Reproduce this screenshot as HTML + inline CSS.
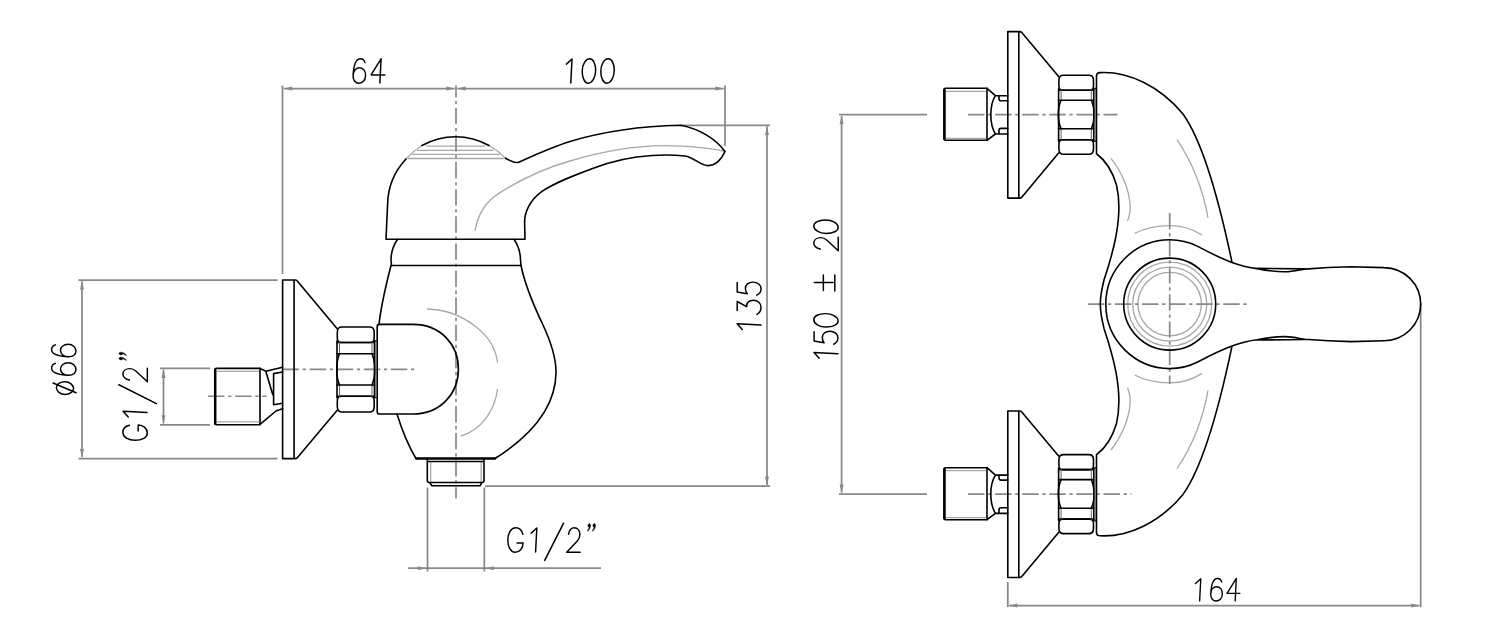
<!DOCTYPE html>
<html><head><meta charset="utf-8"><style>
html,body{margin:0;padding:0;background:#fff;}
svg{display:block;}
.o path,.o circle,.o line{fill:none;stroke:#000;stroke-width:1.6;stroke-linejoin:round;stroke-linecap:round;}
.o .th{stroke-width:2.5;}
.o .gi{stroke:#666;stroke-width:1;}
.o .tk{stroke-width:2.3;}
.g path,.g circle,.g line{fill:none;stroke:#a8a8a8;stroke-width:1.3;}
.d{stroke:#888;stroke-width:1.75;}
.ar{fill:#888;stroke:none;}
.c{stroke:#888;stroke-width:1.7;stroke-dasharray:16.4 3.7 3.3 3.7;}
.t path,path.t{fill:none;stroke:#000;stroke-width:1.55;stroke-linecap:round;stroke-linejoin:round;}
.t path.q{fill:#000;stroke:#000;stroke-width:0.4;}
</style></head><body>
<svg width="1500" height="640" viewBox="0 0 1500 640">
<rect width="1500" height="640" fill="#fff"/>
<g class="g"><path d="M406,159 A68.4,68.4 0 0 1 422,145.5 M489,145.5 A68.4,68.4 0 0 1 505.5,158.2"/><line class="h" x1="426.2" y1="146.2" x2="485.1" y2="146.2"/><line class="h" x1="417.1" y1="150.4" x2="493.8" y2="150.4"/><line class="h" x1="411.9" y1="154.4" x2="499.9" y2="154.4"/><line class="h" x1="408" y1="158.5" x2="503.7" y2="158.5"/><path d="M475,231 C478,212 488,200 500,192.6 C520,180 545,168 570,161 C600,152 635,146 664,145.7 C690,146 710,148 725,151.5"/><path d="M427,309 C460,310 494,332 497.5,362.5 M497.5,389 C495,410 482,430 460.6,436"/><line class="h" x1="430.6" y1="462" x2="430.6" y2="482"/><line class="h" x1="481.2" y1="462" x2="481.2" y2="482"/><line class="h" x1="216.5" y1="371.4" x2="259" y2="371.4"/><line class="h" x1="216.5" y1="421.8" x2="259" y2="421.8"/><line class="h" x1="946" y1="91.3" x2="986" y2="91.3"/><line class="h" x1="946" y1="138.3" x2="986" y2="138.3"/><line class="h" x1="946" y1="470.7" x2="986" y2="470.7"/><line class="h" x1="946" y1="517.7" x2="986" y2="517.7"/><circle cx="1169.7" cy="304.1" r="42"/><circle cx="1169.7" cy="304.1" r="37"/><circle cx="1169.7" cy="304.1" r="31.7"/><path d="M1111,158.4 C1122,172 1129,190 1130,204 C1130.5,210 1129.5,216 1127.5,221 M1177,139.7 C1192,162 1203,190 1208,217.8 M1134.7,233.4 C1145,228 1158,225.6 1169.7,225.6 C1181,225.6 1193,229 1202,235"/><path transform="matrix(1,0,0,-1,0,608.4)" d="M1111,158.4 C1122,172 1129,190 1130,204 C1130.5,210 1129.5,216 1127.5,221 M1177,139.7 C1192,162 1203,190 1208,217.8 M1134.7,233.4 C1145,228 1158,225.6 1169.7,225.6 C1181,225.6 1193,229 1202,235"/></g>
<g><line class="c" style="stroke-dashoffset:4.4" x1="456" y1="85.2" x2="456" y2="498.4"/><line class="c" x1="282.5" y1="369.4" x2="414.7" y2="369.4"/><line class="c" x1="208" y1="396.25" x2="266.5" y2="396.25"/><line class="c" x1="968" y1="114.7" x2="1117.5" y2="114.7"/><line class="c" x1="968" y1="494.1" x2="1131.5" y2="494.1"/><line class="c" x1="1169.7" y1="213" x2="1169.7" y2="384"/><line class="c" x1="1087.8" y1="304.1" x2="1250.6" y2="304.1"/></g>
<g><line class="d" x1="282.5" y1="85.5" x2="282.5" y2="274"/><line class="d" x1="283.8" y1="88.5" x2="454.7" y2="88.5"/><line class="d" x1="457.3" y1="88.5" x2="723.7" y2="88.5"/><line class="d" x1="725" y1="85.5" x2="725" y2="146"/><path class="ar" d="M283.80,88.50 L292.10,86.50 L292.10,90.50Z"/><path class="ar" d="M454.70,88.50 L446.40,90.50 L446.40,86.50Z"/><path class="ar" d="M457.30,88.50 L465.60,86.50 L465.60,90.50Z"/><path class="ar" d="M723.70,88.50 L715.40,90.50 L715.40,86.50Z"/><line class="d" x1="680" y1="125.3" x2="770" y2="125.3"/><line class="d" x1="767" y1="126.6" x2="767" y2="484.9"/><line class="d" x1="485" y1="486.2" x2="770" y2="486.2"/><path class="ar" d="M767.00,126.60 L769.00,134.90 L765.00,134.90Z"/><path class="ar" d="M767.00,484.90 L765.00,476.60 L769.00,476.60Z"/><line class="d" x1="78.5" y1="280" x2="277.5" y2="280"/><line class="d" x1="78.5" y1="458.6" x2="277.5" y2="458.6"/><line class="d" x1="82" y1="281.3" x2="82" y2="457.3"/><path class="ar" d="M82.00,281.30 L84.00,289.60 L80.00,289.60Z"/><path class="ar" d="M82.00,457.30 L80.00,449.00 L84.00,449.00Z"/><line class="d" x1="160" y1="368.4" x2="210" y2="368.4"/><line class="d" x1="160" y1="424.8" x2="210" y2="424.8"/><line class="d" x1="163.5" y1="369.7" x2="163.5" y2="423.5"/><path class="ar" d="M163.50,369.70 L165.50,378.00 L161.50,378.00Z"/><path class="ar" d="M163.50,423.50 L161.50,415.20 L165.50,415.20Z"/><line class="d" x1="427.5" y1="487.5" x2="427.5" y2="571.5"/><line class="d" x1="484.3" y1="487.5" x2="484.3" y2="571.5"/><line class="d" x1="408" y1="568.2" x2="601" y2="568.2"/><path class="ar" d="M426.20,568.20 L417.90,570.20 L417.90,566.20Z"/><path class="ar" d="M485.60,568.20 L493.90,566.20 L493.90,570.20Z"/><line class="d" x1="839" y1="114.7" x2="927" y2="114.7"/><line class="d" x1="839" y1="494.1" x2="927" y2="494.1"/><line class="d" x1="841.6" y1="116" x2="841.6" y2="492.8"/><path class="ar" d="M841.60,116.00 L843.60,124.30 L839.60,124.30Z"/><path class="ar" d="M841.60,492.80 L839.60,484.50 L843.60,484.50Z"/><line class="d" x1="1007.8" y1="582" x2="1007.8" y2="607"/><line class="d" x1="1420.7" y1="304.3" x2="1420.7" y2="607"/><line class="d" x1="1009.1" y1="605.5" x2="1419.4" y2="605.5"/><path class="ar" d="M1009.10,605.50 L1017.40,603.50 L1017.40,607.50Z"/><path class="ar" d="M1419.40,605.50 L1411.10,607.50 L1411.10,603.50Z"/></g>
<g class="o"><path d="M386,239.3 L387.6,204.4 A68.4,68.4 0 0 1 406,159 M422,145.5 A68.4,68.4 0 0 1 489,145.5 M505.5,158.2 C509,160 513,163 518,162.5 C535,155 552,147 570,141.5 C605,131 645,126 680.5,125.3 C700,129 716,139 725,151.5 C721,160 716,166 707.4,165.6 C700,165 693,157 685,156 C670,154.5 660,155 652,155.5 C630,157 612,161 594,168 C575,175 556,182 542,191.4 C530,200 524.6,212 524.6,222 L525,239.3 L386,239.3"/><path d="M397.5,239.3 C393,246 391,254 391,260 L391.5,265.5 L521,265.5 L520.5,260 C520.5,254 518.5,246 514,239.3"/><path d="M391,265.5 C386,285 381,305 379,324.5"/><path d="M397,414 C402,430 409,447 416,458.5 M495,458.5 C540,430 556,400 556,372 C556,355 550,340 543,325 C532,302 525,285 521,265.5"/><path class="tk" d="M416,458.5 L495,458.5"/><path d="M379.5,324.4 L413,324.4 C440,324.4 458.4,344 458.4,369 C458.4,394 440,414 413,414 L379.5,414 Q377.2,414 377.2,411.7 L377.2,326.7 Q377.2,324.4 379.5,324.4 Z"/><path d="M427.3,458.5 L427.3,480.5 Q427.3,482.5 429.5,482.5 L482,482.5 Q484,482.5 484,480.5 L484,458.5 M427.3,461.5 L484,461.5 M429.5,482.5 L432,485.8 L480,485.8 L482,482.5"/><path d="M341.9,327 L369.6,327 Q373.8,327 374.1,331.2 Q374.40000000000003,334.75 374.1,339.14 Q373.8,342.5 370.44,342.5 L341.06,342.5 Q337.7,342.5 337.4,339.14 Q337.09999999999997,334.75 337.4,331.2 Q337.7,327 341.9,327 Z"/><path d="M341.06,396.25 L370.44,396.25 Q373.8,396.25 374.1,399.61 Q374.40000000000003,404.125 374.1,407.8 Q373.8,412 369.6,412 L341.9,412 Q337.7,412 337.4,407.8 Q337.09999999999997,404.125 337.4,399.61 Q337.7,396.25 341.06,396.25 Z"/><path d="M337,341.0 L337,397.75 M374.5,341.0 L374.5,397.75"/><path d="M337,342.5 L374.5,342.5 M337,353.75 L374.5,353.75 M337,385 L374.5,385 M337,396.25 L374.5,396.25"/><path class="gi" d="M339.5,342.5 L339.5,353.75 M372.0,342.5 L372.0,353.75 M339.5,385 L339.5,396.25 M372.0,385 L372.0,396.25"/><path d="M339.5,353.75 C335.8,362.5 335.8,376.25 339.5,385 M372.0,353.75 C375.7,362.5 375.7,376.25 372.0,385"/><path d="M374.5,341 L377.2,341 M374.5,397.5 L377.2,397.5"/><path class="gi" d="M375.85,341 L375.85,397.5"/><path d="M282.6,280 L294.1,280 L294.1,458.6 L282.6,458.6 Z M294.1,280 L295.5,280 Q296.7,280.2 297.5,281.2 L337,328.5 M294.1,458.6 L295.5,458.6 Q296.7,458.4 297.5,457.4 L337,410.5"/><path d="M260,368.4 L216.5,368.4 Q214.8,368.4 214.8,370 L214.8,423.2 Q214.8,424.8 216.5,424.8 L260,424.8 Z"/><path class="th" d="M215.2,370 L215.2,423.2"/><path d="M260,368.4 L265.8,371.25 L282.6,367.3 M265.8,371.25 L272.8,394.7 M282.6,372 L273.6,373.6 L273.6,404.8 L282.6,403.3 M260,424.4 L276,411 L282.6,408.75"/><g transform="translate(0,0)"><path d="M1007.8,31.6 L1018.8,31.6 L1018.8,198.1 L1007.8,198.1 Z M1018.8,31.6 L1020,31.6 Q1021.2,31.8 1022,32.8 L1058.6,76.5 M1018.8,198.1 L1020,198.1 Q1021.2,197.9 1022,196.9 L1058.6,153"/><path d="M1063.5,75.2 L1088.8999999999999,75.2 Q1093.1,75.2 1093.3999999999999,79.4 Q1093.6999999999998,82.7 1093.3999999999999,86.84 Q1093.1,90.2 1089.74,90.2 L1062.6599999999999,90.2 Q1059.3,90.2 1059.0,86.84 Q1058.7,82.7 1059.0,79.4 Q1059.3,75.2 1063.5,75.2 Z"/><path d="M1062.6599999999999,139.7 L1089.74,139.7 Q1093.1,139.7 1093.3999999999999,143.06 Q1093.6999999999998,146.95 1093.3999999999999,150.0 Q1093.1,154.2 1088.8999999999999,154.2 L1063.5,154.2 Q1059.3,154.2 1059.0,150.0 Q1058.7,146.95 1059.0,143.06 Q1059.3,139.7 1062.6599999999999,139.7 Z"/><path d="M1058.6,88.7 L1058.6,141.2 M1093.8,88.7 L1093.8,141.2"/><path d="M1058.6,90.2 L1093.8,90.2 M1058.6,100.2 L1093.8,100.2 M1058.6,128.8 L1093.8,128.8 M1058.6,139.7 L1093.8,139.7"/><path class="gi" d="M1061.1,90.2 L1061.1,100.2 M1091.3,90.2 L1091.3,100.2 M1061.1,128.8 L1061.1,139.7 M1091.3,128.8 L1091.3,139.7"/><path d="M1061.1,100.2 C1057.3999999999999,108.208 1057.3999999999999,120.792 1061.1,128.8 M1091.3,100.2 C1095.0,108.208 1095.0,120.792 1091.3,128.8"/><path d="M1093.8,88.6 L1096.3,88.6 M1093.8,141.2 L1096.3,141.2"/><path class="gi" d="M1095.05,88.6 L1095.05,141.2"/><path d="M987,88.3 L945.5,88.3 Q944,88.3 944,89.8 L944,138.8 Q944,140.3 945.5,140.3 L987,140.3 Z"/><path class="th" d="M944.5,89.8 L944.5,138.8"/><path d="M987,88.3 L995.4,95.7 L1007.8,95.7 M987,140.3 L995.4,134 L1007.8,134 M995.4,95.7 C991.5,102 990.8,109 990.8,114.7 C990.8,120.5 991.5,127.5 995.4,134 M1007.8,100.7 L1001,100.7 Q999,100.7 999,98.7 L999,95.7 M1007.8,128.4 L1001,128.4 Q999,128.4 999,130.4 L999,134"/></g><g transform="translate(0,379.4)"><path d="M1007.8,31.6 L1018.8,31.6 L1018.8,198.1 L1007.8,198.1 Z M1018.8,31.6 L1020,31.6 Q1021.2,31.8 1022,32.8 L1058.6,76.5 M1018.8,198.1 L1020,198.1 Q1021.2,197.9 1022,196.9 L1058.6,153"/><path d="M1063.5,75.2 L1088.8999999999999,75.2 Q1093.1,75.2 1093.3999999999999,79.4 Q1093.6999999999998,82.7 1093.3999999999999,86.84 Q1093.1,90.2 1089.74,90.2 L1062.6599999999999,90.2 Q1059.3,90.2 1059.0,86.84 Q1058.7,82.7 1059.0,79.4 Q1059.3,75.2 1063.5,75.2 Z"/><path d="M1062.6599999999999,139.7 L1089.74,139.7 Q1093.1,139.7 1093.3999999999999,143.06 Q1093.6999999999998,146.95 1093.3999999999999,150.0 Q1093.1,154.2 1088.8999999999999,154.2 L1063.5,154.2 Q1059.3,154.2 1059.0,150.0 Q1058.7,146.95 1059.0,143.06 Q1059.3,139.7 1062.6599999999999,139.7 Z"/><path d="M1058.6,88.7 L1058.6,141.2 M1093.8,88.7 L1093.8,141.2"/><path d="M1058.6,90.2 L1093.8,90.2 M1058.6,100.2 L1093.8,100.2 M1058.6,128.8 L1093.8,128.8 M1058.6,139.7 L1093.8,139.7"/><path class="gi" d="M1061.1,90.2 L1061.1,100.2 M1091.3,90.2 L1091.3,100.2 M1061.1,128.8 L1061.1,139.7 M1091.3,128.8 L1091.3,139.7"/><path d="M1061.1,100.2 C1057.3999999999999,108.208 1057.3999999999999,120.792 1061.1,128.8 M1091.3,100.2 C1095.0,108.208 1095.0,120.792 1091.3,128.8"/><path d="M1093.8,88.6 L1096.3,88.6 M1093.8,141.2 L1096.3,141.2"/><path class="gi" d="M1095.05,88.6 L1095.05,141.2"/><path d="M987,88.3 L945.5,88.3 Q944,88.3 944,89.8 L944,138.8 Q944,140.3 945.5,140.3 L987,140.3 Z"/><path class="th" d="M944.5,89.8 L944.5,138.8"/><path d="M987,88.3 L995.4,95.7 L1007.8,95.7 M987,140.3 L995.4,134 L1007.8,134 M995.4,95.7 C991.5,102 990.8,109 990.8,114.7 C990.8,120.5 991.5,127.5 995.4,134 M1007.8,100.7 L1001,100.7 Q999,100.7 999,98.7 L999,95.7 M1007.8,128.4 L1001,128.4 Q999,128.4 999,130.4 L999,134"/></g><path d="M1096.5,153.75 L1096.5,76 Q1096.5,72.8 1100,72.6 C1128,71 1160,86 1183,114 C1203,142 1220,205 1232,262.3 M1105.8,304.1 A64.3,64.3 0 0 1 1169.7,239.8 C1180,239.8 1189,242 1197.7,246.4 C1206,250.8 1222,258.8 1232,262.4 C1242,266 1250,267.8 1257,268.6 C1267,270.6 1276,271.9 1285,271.8 C1293,271.6 1299,270 1305,269.1 C1320,267.8 1335,267 1351,266.8 L1384,267.6 A36.7,36.7 0 0 1 1420.7,304.3 M1096.5,153.75 C1105,160 1112,170 1116.5,185 C1120,200 1119,220 1116,236 C1113,252 1108,268 1104,280 C1101.5,290 1100.3,298 1100.3,304.3 M1257,268.4 L1305,268.9"/><path transform="matrix(1,0,0,-1,0,608.4)" d="M1096.5,153.75 L1096.5,76 Q1096.5,72.8 1100,72.6 C1128,71 1160,86 1183,114 C1203,142 1220,205 1232,262.3 M1105.8,304.1 A64.3,64.3 0 0 1 1169.7,239.8 C1180,239.8 1189,242 1197.7,246.4 C1206,250.8 1222,258.8 1232,262.4 C1242,266 1250,267.8 1257,268.6 C1267,270.6 1276,271.9 1285,271.8 C1293,271.6 1299,270 1305,269.1 C1320,267.8 1335,267 1351,266.8 L1384,267.6 A36.7,36.7 0 0 1 1420.7,304.3 M1096.5,153.75 C1105,160 1112,170 1116.5,185 C1120,200 1119,220 1116,236 C1113,252 1108,268 1104,280 C1101.5,290 1100.3,298 1100.3,304.3 M1257,268.4 L1305,268.9"/><circle cx="1169.7" cy="304.1" r="46"/></g>
<g><g class="t" transform="translate(352.50,58.20) "><path transform="translate(0.30,0.60) scale(0.955)" d="M12.8,4 C12,1.5 10.3,0 8,0 C3.5,0 0.8,6 0.3,18 M0.3,18 C0.3,13 3,9.3 7,9.3 C10.8,9.3 13.4,12.8 13.4,17.5 C13.4,22 10.5,25.5 6.3,25.5 C2.8,25.5 0.3,22.5 0.3,18Z"/><path transform="translate(18.40,0.60) scale(0.955)" d="M10.65,0 L0.2,16.9 L14.6,16.9 M10.65,0 L9.4,25.3"/></g><g class="t" transform="translate(566.00,58.20) "><path transform="translate(0.30,0.60) scale(0.955)" d="M0.1,5.6 L6,0.2 L4.7,25.3"/><path transform="translate(16.20,0.60) scale(0.955)" d="M7.8,0 C11.6,0 14.1,5.2 14.1,12 C14.1,19.5 10.5,25.5 6.3,25.5 C2.5,25.5 0,20 0,13 C0,5.5 3.8,0 7.8,0Z"/><path transform="translate(34.80,0.60) scale(0.955)" d="M7.8,0 C11.6,0 14.1,5.2 14.1,12 C14.1,19.5 10.5,25.5 6.3,25.5 C2.5,25.5 0,20 0,13 C0,5.5 3.8,0 7.8,0Z"/></g><g class="t" transform="translate(1195.20,577.90) scale(0.927)" style="stroke-width:1.75"><path transform="translate(0.30,0.60) scale(0.955)" d="M0.1,5.6 L6,0.2 L4.7,25.3"/><path transform="translate(16.48,0.60) scale(0.955)" d="M12.8,4 C12,1.5 10.3,0 8,0 C3.5,0 0.8,6 0.3,18 M0.3,18 C0.3,13 3,9.3 7,9.3 C10.8,9.3 13.4,12.8 13.4,17.5 C13.4,22 10.5,25.5 6.3,25.5 C2.8,25.5 0.3,22.5 0.3,18Z"/><path transform="translate(34.17,0.60) scale(0.955)" d="M10.65,0 L0.2,16.9 L14.6,16.9 M10.65,0 L9.4,25.3"/></g><g class="t" transform="translate(507.30,527.20) "><path transform="translate(0.30,0.60) scale(0.955)" d="M15.9,6.8 C14.9,2.6 12,0 8.5,0 C3.6,0 0.2,5.5 0.2,12.8 C0.2,20 3.2,25.6 7.8,25.6 C12.4,25.6 16.2,21.5 16.2,16 L9.9,16"/><path transform="translate(23.80,0.60) scale(0.955)" d="M0.1,5.6 L6,0.2 L4.7,25.3"/><path transform="translate(59.20,0.60) scale(0.955)" d="M2.1,6.8 C3,2.6 5.2,0 8,0 C11.6,0 14,3 14,7.3 C14,10 13,11.8 11.3,13.8 L0.2,25.6 L14.3,25.6"/></g><path class="t" d="M563.6,523.2 L544.7,560.4"/><g class="t" transform="translate(586.50,523.20) "><path class="q" transform="translate(0.30,0.60) scale(0.955)" d="M2.6,0 C3.5,0 4,0.7 4,1.8 C4,4 2.9,6.2 0.8,7.8 L0.4,7.3 C1.5,6.2 2.2,4.9 2.4,3.7 C1.6,3.6 1.1,2.9 1.1,1.9 C1.1,0.8 1.7,0 2.6,0 Z M7.8,0 C8.7,0 9.2,0.7 9.2,1.8 C9.2,4 8.1,6.2 6,7.8 L5.6,7.3 C6.7,6.2 7.4,4.9 7.6,3.7 C6.8,3.6 6.3,2.9 6.3,1.9 C6.3,0.8 6.9,0 7.8,0 Z"/></g><g class="t" transform="translate(736.30,329.80) rotate(-90)"><path transform="translate(0.30,0.60) scale(0.955)" d="M0.1,5.6 L6,0.2 L4.7,25.3"/><path transform="translate(15.30,0.60) scale(0.955)" d="M4.2,0.3 L13.6,0.3 L8.2,10.2 C12.5,10 15,13 15,17.3 C15,21.8 11.8,25.3 7.5,25.3 C4.2,25.3 1.6,23.6 0.2,21"/><path transform="translate(34.50,0.60) scale(0.955)" d="M13.3,0.3 L3.5,0.3 L1.7,10.8 C3.2,9.6 5,8.9 7,8.9 C11,8.9 13.8,12.2 13.8,16.8 C13.8,21.6 10.8,25.3 6.9,25.3 C4,25.3 1.5,23.6 0.2,20.8"/></g><g class="t" transform="translate(813.20,358.60) rotate(-90)"><path transform="translate(0.30,0.60) scale(0.955)" d="M0.1,5.6 L6,0.2 L4.7,25.3"/><path transform="translate(14.20,0.60) scale(0.955)" d="M13.3,0.3 L3.5,0.3 L1.7,10.8 C3.2,9.6 5,8.9 7,8.9 C11,8.9 13.8,12.2 13.8,16.8 C13.8,21.6 10.8,25.3 6.9,25.3 C4,25.3 1.5,23.6 0.2,20.8"/><path transform="translate(31.50,0.60) scale(0.955)" d="M7.8,0 C11.6,0 14.1,5.2 14.1,12 C14.1,19.5 10.5,25.5 6.3,25.5 C2.5,25.5 0,20 0,13 C0,5.5 3.8,0 7.8,0Z"/><path transform="translate(67.40,0.60) scale(0.955)" d="M9.2,0.5 L9.2,20.3 M0.7,10 L17,10 M0.3,22 L17,22"/><path transform="translate(107.60,0.60) scale(0.955)" d="M2.1,6.8 C3,2.6 5.2,0 8,0 C11.6,0 14,3 14,7.3 C14,10 13,11.8 11.3,13.8 L0.2,25.6 L14.3,25.6"/><path transform="translate(125.20,0.60) scale(0.955)" d="M7.8,0 C11.6,0 14.1,5.2 14.1,12 C14.1,19.5 10.5,25.5 6.3,25.5 C2.5,25.5 0,20 0,13 C0,5.5 3.8,0 7.8,0Z"/></g><g class="t" transform="translate(51.00,395.50) rotate(-90)"><path transform="translate(0.30,0.60) scale(0.955)" d="M8,5 C11.5,5 14,9 14,13.8 C14,19 10.8,23 7,23 C3.5,23 0.8,19 0.8,14.2 C0.8,9 4.2,5 8,5Z M12.8,1.6 L2.6,25.7"/><path transform="translate(19.90,0.60) scale(0.955)" d="M12.8,4 C12,1.5 10.3,0 8,0 C3.5,0 0.8,6 0.3,18 M0.3,18 C0.3,13 3,9.3 7,9.3 C10.8,9.3 13.4,12.8 13.4,17.5 C13.4,22 10.5,25.5 6.3,25.5 C2.8,25.5 0.3,22.5 0.3,18Z"/><path transform="translate(38.40,0.60) scale(0.955)" d="M12.8,4 C12,1.5 10.3,0 8,0 C3.5,0 0.8,6 0.3,18 M0.3,18 C0.3,13 3,9.3 7,9.3 C10.8,9.3 13.4,12.8 13.4,17.5 C13.4,22 10.5,25.5 6.3,25.5 C2.8,25.5 0.3,22.5 0.3,18Z"/></g><g class="t" transform="translate(122.30,440.80) rotate(-90)"><path transform="translate(0.30,0.60) scale(0.955)" d="M15.9,6.8 C14.9,2.6 12,0 8.5,0 C3.6,0 0.2,5.5 0.2,12.8 C0.2,20 3.2,25.6 7.8,25.6 C12.4,25.6 16.2,21.5 16.2,16 L9.9,16"/><path transform="translate(23.80,0.60) scale(0.955)" d="M0.1,5.6 L6,0.2 L4.7,25.3"/><path transform="translate(58.80,0.60) scale(0.955)" d="M2.1,6.8 C3,2.6 5.2,0 8,0 C11.6,0 14,3 14,7.3 C14,10 13,11.8 11.3,13.8 L0.2,25.6 L14.3,25.6"/></g><path class="t" d="M118.9,384.8 L156.4,403.6"/><g class="t" transform="translate(118.50,440.80) rotate(-90)"><path class="q" transform="translate(79.80,0.60) scale(0.955)" d="M2.6,0 C3.5,0 4,0.7 4,1.8 C4,4 2.9,6.2 0.8,7.8 L0.4,7.3 C1.5,6.2 2.2,4.9 2.4,3.7 C1.6,3.6 1.1,2.9 1.1,1.9 C1.1,0.8 1.7,0 2.6,0 Z M7.8,0 C8.7,0 9.2,0.7 9.2,1.8 C9.2,4 8.1,6.2 6,7.8 L5.6,7.3 C6.7,6.2 7.4,4.9 7.6,3.7 C6.8,3.6 6.3,2.9 6.3,1.9 C6.3,0.8 6.9,0 7.8,0 Z"/></g></g>
</svg>
</body></html>
